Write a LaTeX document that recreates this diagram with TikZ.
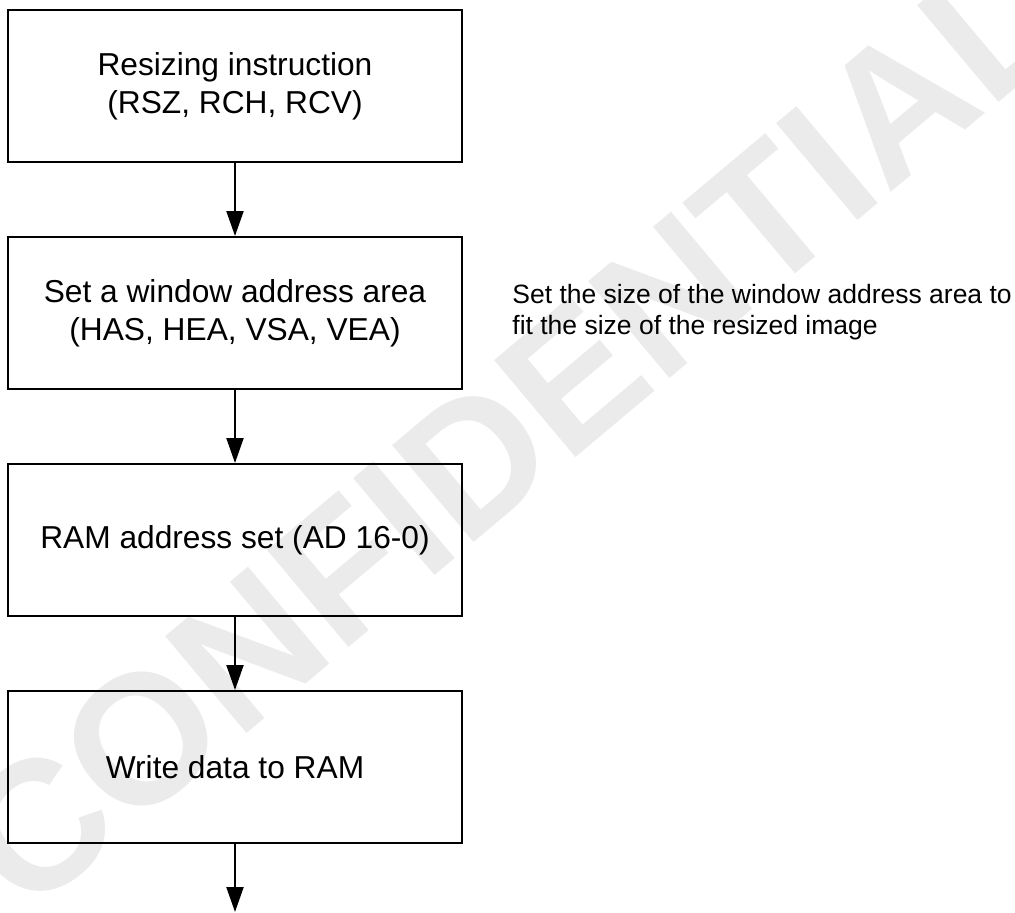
\documentclass[tikz,border=0pt]{standalone}
\usepackage{fontspec}
\setmainfont{Liberation Sans}
\usetikzlibrary{positioning, arrows.meta, backgrounds}

\begin{document}
\begin{tikzpicture}[x=0.5pt, y=-0.5pt,
  stepbox/.style={draw=black, line width=1pt, minimum width=227pt,
    minimum height=76pt, inner sep=0pt, align=center,
    font=\fontsize{15.85}{19}\selectfont},
  flow/.style={draw=black, line width=1pt,
    -{Triangle[length=12.5pt, width=8.5pt]}},
  note/.style={anchor=west, inner sep=0pt, align=left,
    font=\fontsize{13.25}{15.5}\selectfont},
  node distance=36.5pt]
  \useasboundingbox (0,0) rectangle (1015,912);

  % ── flow steps ──
  \node[stepbox] (resize) at (235,86) {Resizing instruction\\(RSZ, RCH, RCV)};
  \node[stepbox, below=of resize] (window) {Set a window address area\\(HAS, HEA, VSA, VEA)};
  \node[stepbox, below=of window] (ramaddr) {RAM address set (AD 16-0)};
  \node[stepbox, below=of ramaddr] (write) {Write data to RAM};
  \coordinate (next) at (235,912);

  % ── arrows ──
  \draw[flow] (resize) -- (window);
  \draw[flow] (window) -- (ramaddr);
  \draw[flow] (ramaddr) -- (write);
  \draw[flow] (write) -- (next);

  % ── side note ──
  \node[note] (sizenote) at (512,312.5)
    {Set the size of the window address area to\\fit the size of the resized image};

  % ── watermark ──
  \begin{scope}[on background layer]
    \node[text=gray!16, rotate=40, font=\fontsize{92}{92}\selectfont\bfseries]
      (mark) at (510,430) {CONFIDENTIAL};
  \end{scope}
\end{tikzpicture}
\end{document}
